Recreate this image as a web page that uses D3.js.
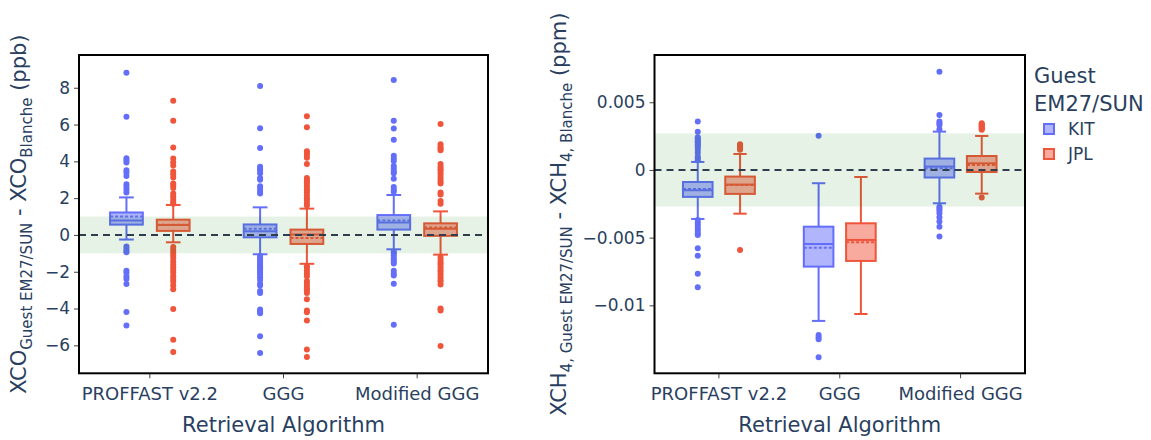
<!DOCTYPE html>
<html>
<head>
<meta charset="utf-8">
<script src="https://cdn.jsdelivr.net/npm/d3@7"></script>
<style>
  body { margin: 0; background: #fff; }
  text { font-family: "DejaVu Sans", Verdana, sans-serif; fill: #2a3f5f; }
</style>
</head>
<body>
<svg id="chart" width="1151" height="440"></svg>
<script>
// categories / series
var cats = ["PROFFAST v2.2", "GGG", "Modified GGG"];
var groups = ["KIT", "JPL"];
var colors = ["#636efa", "#EF553B"];

// stats per category: [lowerWhisker, q1, median, q3, upperWhisker, mean]
// ---- XCO (ppb) ----
var coKitStats = [
  [-0.25, 0.56, 0.78, 1.22, 2.04, 1.0],
  [-1.05, -0.13, 0.2, 0.57, 1.5, 0.33],
  [-0.78, 0.29, 0.68, 1.08, 2.17, 0.78]
];
var coJplStats = [
  [-0.4, 0.22, 0.54, 0.83, 1.63, 0.56],
  [-1.57, -0.49, 0.02, 0.29, 1.43, -0.16],
  [-1.07, -0.05, 0.33, 0.63, 1.28, 0.4]
];
var coKitOut = [
  [8.81, 6.43, 4.17, 4.05, 3.94, 3.52, 3.38, 3.21, 2.76, 2.6, 2.45, 2.3,
   -0.63, -0.75, -0.87, -0.94, -1.94, -2.05, -2.25, -2.4, -2.66, -4.19, -4.92],
  [8.1, 5.8, 4.73, 3.7, 3.6, 3.5, 3.35, 3.1, 3.0, 2.65, 2.5, 2.35, 2.25,
   -1.15, -1.25, -1.35, -1.45, -1.55, -1.65, -1.75, -1.85, -1.95, -2.05, -2.15,
   -2.3, -2.45, -2.65, -2.75, -3.05, -3.15, -4.05, -4.15, -4.25, -5.5, -6.42],
  [8.42, 6.2, 5.78, 5.18, 4.3, 4.15, 4.02, 3.75, 3.6, 3.45, 3.35, 3.05, 2.6, 2.45, 2.35,
   -0.9, -1.0, -1.1, -1.25, -1.35, -1.45, -1.55, -1.95, -2.1, -2.2, -2.65, -4.88]
];
var coJplOut = [
  [7.3, 6.2, 4.75, 4.15, 3.95, 3.78, 3.45, 3.3, 3.12, 2.8, 2.7, 2.55, 2.25, 2.1, 1.95, 1.8, 1.7,
   -0.65, -0.8, -0.95, -1.1, -1.25, -1.45, -1.6, -1.75, -1.9, -2.05, -2.25, -2.4, -2.55,
   -2.75, -2.95, -4.03, -5.69, -6.36],
  [6.45, 5.85, 4.55, 4.45, 4.35, 4.2, 3.85, 3.1, 3.0, 2.9, 2.8, 2.65, 2.5, 2.4, 2.3, 2.15,
   2.0, 1.9, 1.75, 1.6, -1.7, -1.8, -1.95, -2.1, -2.25, -2.5, -2.6, -2.75, -2.9, -3.0,
   -3.15, -3.5, -4.1, -4.2, -4.65, -6.23, -6.63],
  [6.03, 4.93, 4.8, 4.7, 4.6, 3.85, 3.7, 3.6, 3.5, 3.35, 3.2, 3.05, 2.9, 2.8, 2.3, 2.2, 1.85, 1.7,
   -1.2, -1.35, -1.5, -1.6, -1.75, -1.9, -2.0, -2.15, -2.3, -2.45, -2.55, -2.7, -4.0, -4.1, -6.04]
];
var coTicks = [-6, -4, -2, 0, 2, 4, 6, 8];
var coDomain = [-7.52, 9.78];
var coBand = [-1, 1];

// ---- XCH4 (ppm) ----
var chKitStats = [
  [-0.00362, -0.00199, -0.0015, -0.00089, 0.00059, -0.0014],
  [-0.01115, -0.00714, -0.00547, -0.00419, -0.00098, -0.00574],
  [-0.00246, -0.00056, 0.00025, 0.00084, 0.00283, 0.00012]
];
var chJplStats = [
  [-0.00323, -0.00177, -0.00108, -0.00049, 0.00118, -0.00112],
  [-0.01064, -0.00672, -0.00517, -0.00394, -0.00052, -0.00534],
  [-0.00175, -0.00015, 0.00049, 0.00103, 0.00251, 0.00037]
];
var chKitOut = [
  [0.00357, 0.00283, 0.00241, 0.00231, 0.00222, 0.00212, 0.00202, 0.0019, 0.00178,
   0.00165, 0.00148, 0.00125, 0.00098, 0.00085, 0.00072, -0.0037, -0.0039, -0.0041,
   -0.0043, -0.0045, -0.0047, -0.0048, -0.00579, -0.00633, -0.00766, -0.00867],
  [0.00253, -0.01219, -0.01235, -0.0125, -0.01383],
  [0.00726, 0.00406, 0.00357, 0.00345, 0.00332, 0.003, -0.00271, -0.00285, -0.003,
   -0.0032, -0.0035, -0.0038, -0.00419, -0.00492]
];
var chJplOut = [
  [0.0019, 0.00183, 0.00176, 0.00168, 0.00159, 0.0015, -0.00591],
  [],
  [0.00345, 0.00338, 0.00331, 0.00324, 0.00317, 0.0031, 0.00303, 0.00296, -0.00204]
];
var chTicks = [-0.01, -0.005, 0, 0.005];
var chDomain = [-0.01502, 0.00849];
var chBand = [-0.0027, 0.0027];

var svg = d3.select("#chart");
var top_y = 55, bottom_y = 373.3;
var fmt = d3.format("~g");

function drawPanel(p) {
  var x = d3.scaleBand().domain(cats).range(p.xr).padding(0);
  var step = x.step();
  var bw = step * 0.245;        // box width (boxgap/boxgroupgap 0.3)
  var off = step * 0.175;       // group offset
  var cap = bw * 0.45;
  var y = d3.scaleLinear().domain(p.domain).range([bottom_y, top_y]);

  var g = svg.append("g");

  ////////// BOXES //////////
  [p.kit, p.jpl].forEach(function (stats, gi) {
    var col = colors[gi];
    var outs = [p.kitOut, p.jplOut][gi];
    var dx = gi === 0 ? -off : off;
    stats.forEach(function (s, ci) {
      var cx = x(cats[ci]) + step / 2 + dx;
      var bg = g.append("g");
      // whiskers
      bg.append("line").attr("x1", cx).attr("x2", cx)
        .attr("y1", y(s[4])).attr("y2", y(s[3]))
        .attr("stroke", col).attr("stroke-width", 2);
      bg.append("line").attr("x1", cx).attr("x2", cx)
        .attr("y1", y(s[1])).attr("y2", y(s[0]))
        .attr("stroke", col).attr("stroke-width", 2);
      [s[0], s[4]].forEach(function (v) {
        bg.append("line").attr("x1", cx - cap / 2).attr("x2", cx + cap / 2)
          .attr("y1", y(v)).attr("y2", y(v))
          .attr("stroke", col).attr("stroke-width", 2);
      });
      // box
      bg.append("rect")
        .attr("x", cx - bw / 2).attr("width", bw)
        .attr("y", y(s[3])).attr("height", y(s[1]) - y(s[3]))
        .attr("fill", col).attr("fill-opacity", 0.5)
        .attr("stroke", col).attr("stroke-width", 2);
      // median
      bg.append("line").attr("x1", cx - bw / 2).attr("x2", cx + bw / 2)
        .attr("y1", y(s[2])).attr("y2", y(s[2]))
        .attr("stroke", col).attr("stroke-width", 2);
      // mean (dashed)
      bg.append("line").attr("x1", cx - bw / 2).attr("x2", cx + bw / 2)
        .attr("y1", y(s[5])).attr("y2", y(s[5]))
        .attr("stroke", col).attr("stroke-width", 2)
        .attr("stroke-dasharray", "3,2");
      // outliers
      bg.selectAll("circle").data(outs[ci]).enter().append("circle")
        .attr("cx", cx).attr("cy", function (d) { return y(d); })
        .attr("r", 3).attr("fill", col);
    });
  });

  ////////// GREEN BAND //////////
  g.append("rect")
    .attr("x", p.frame[0]).attr("width", p.frame[1] - p.frame[0])
    .attr("y", y(p.band[1])).attr("height", y(p.band[0]) - y(p.band[1]))
    .attr("fill", "rgb(0,128,0)").attr("fill-opacity", 0.1);

  // zero line
  g.append("line")
    .attr("x1", p.frame[0]).attr("x2", p.frame[1])
    .attr("y1", y(0)).attr("y2", y(0))
    .attr("stroke", "#2f3e4e").attr("stroke-width", 2)
    .attr("stroke-dasharray", "7,5");

  ////////// AXES //////////
  var yAxis = d3.axisLeft(y).tickValues(p.ticks).tickFormat(fmt).tickSize(5).tickPadding(4);
  var ya = svg.append("g").attr("transform", "translate(" + p.frame[0] + ",0)").call(yAxis);
  ya.select(".domain").remove();
  ya.selectAll("line").attr("stroke", "#444");
  ya.selectAll("text").style("font-size", "17px").attr("fill", "#2a3f5f");

  var xAxis = d3.axisBottom(x).tickSize(5).tickPadding(9);
  var xa = svg.append("g").attr("transform", "translate(0," + bottom_y + ")").call(xAxis);
  xa.select(".domain").remove();
  xa.selectAll("line").attr("stroke", "#444");
  xa.selectAll("text").style("font-size", "18px").attr("fill", "#2a3f5f");

  // frame
  svg.append("rect")
    .attr("x", p.frame[0]).attr("y", top_y)
    .attr("width", p.frame[1] - p.frame[0]).attr("height", bottom_y - top_y)
    .attr("fill", "none").attr("stroke", "#000").attr("stroke-width", 2);

  // x title
  svg.append("text")
    .attr("x", (p.frame[0] + p.frame[1]) / 2).attr("y", 432)
    .attr("text-anchor", "middle").style("font-size", "21px")
    .text("Retrieval Algorithm");

  // y title with subscripts
  var yt = svg.append("text")
    .attr("transform", "translate(" + p.titleX + "," + (top_y + bottom_y) / 2 + ") rotate(-90)")
    .attr("text-anchor", "middle").style("font-size", "21px");
  p.title.forEach(function (part) {
    yt.append("tspan")
      .attr("dy", part[1] ? 6 : (part[2] ? -6 : 0))
      .style("font-size", part[1] ? "15px" : "21px")
      .text(part[0]);
  });
}

// left panel
drawPanel({
  frame: [79, 488], xr: [83, 484],
  domain: coDomain, ticks: coTicks, band: coBand,
  kit: coKitStats, jpl: coJplStats, kitOut: coKitOut, jplOut: coJplOut,
  titleX: 26,
  title: [["XCO", false, false], ["Guest EM27/SUN", true, false],
          [" - XCO", false, true], ["Blanche", true, false], [" (ppb)", false, true]]
});

// right panel
drawPanel({
  frame: [654.5, 1025], xr: [658.5, 1021],
  domain: chDomain, ticks: chTicks, band: chBand,
  kit: chKitStats, jpl: chJplStats, kitOut: chKitOut, jplOut: chJplOut,
  titleX: 566,
  title: [["XCH", false, false], ["4, Guest EM27/SUN", true, false],
          [" - XCH", false, true], ["4, Blanche", true, false], [" (ppm)", false, true]]
});

////////// LEGEND //////////
var lg = svg.append("g");
lg.append("text").attr("x", 1034).attr("y", 83).style("font-size", "21px").text("Guest");
lg.append("text").attr("x", 1034).attr("y", 111).style("font-size", "21px").text("EM27/SUN");
groups.forEach(function (name, i) {
  var cy = 129 + i * 25;
  lg.append("rect")
    .attr("x", 1044).attr("y", cy - 5).attr("width", 10).attr("height", 10)
    .attr("fill", colors[i]).attr("fill-opacity", 0.5)
    .attr("stroke", colors[i]).attr("stroke-width", 2);
  lg.append("text").attr("x", 1068).attr("y", cy + 6)
    .style("font-size", "17px").text(name);
});
</script>
</body>
</html>
